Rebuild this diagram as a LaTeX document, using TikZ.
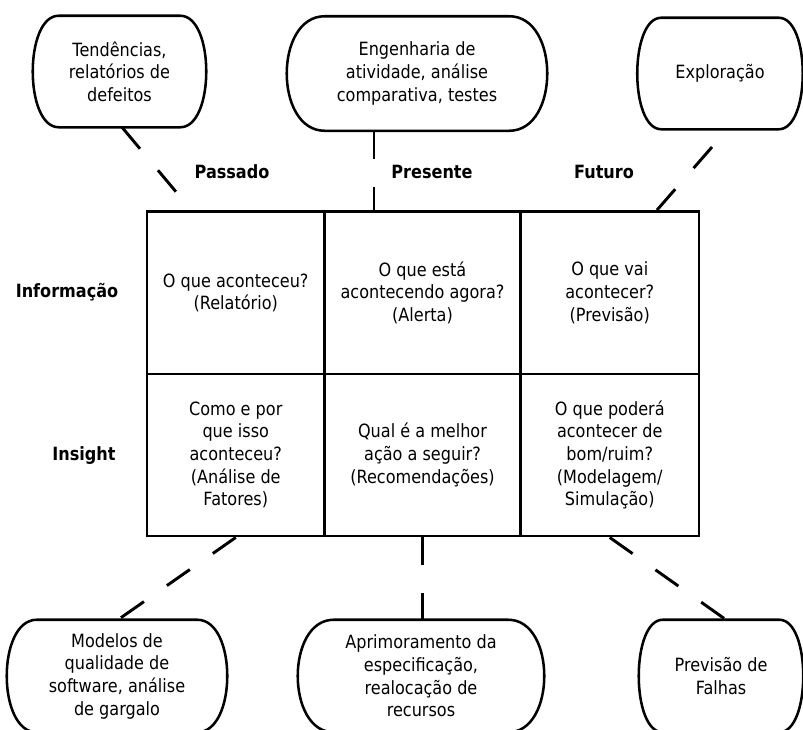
\documentclass[tikz,border=0pt]{standalone}
\usepackage{fontspec}
\setmainfont{DejaVu Sans}[FakeStretch=0.88]

% Outline of a speech bubble around a named node: flat top and bottom,
% sides bulging out to the node's east/west edges. #2 = corner reach (px).
\newcommand\bubbleoutline[2]{%
  \draw[bubline]
    ([xshift=#2*0.75pt]#1.north west) -- ([xshift=-#2*0.75pt]#1.north east)
    .. controls ([xshift=#2*0.25pt]#1.north east) and ([xshift=#2*0.25pt]#1.south east)
    .. ([xshift=-#2*0.75pt]#1.south east)
    -- ([xshift=#2*0.75pt]#1.south west)
    .. controls ([xshift=-#2*0.25pt]#1.south west) and ([xshift=-#2*0.25pt]#1.north west)
    .. cycle;}

\begin{document}
\begin{tikzpicture}[x=0.75pt,y=-0.75pt,
  basefont/.style={font=\fontsize{13.7}{17}\selectfont},
  head/.style={font=\fontsize{13.7}{17}\selectfont\bfseries, inner sep=0pt},
  cell/.style={draw, line width=2.2pt, align=center, basefont, inner sep=0pt},
  bub/.style={align=center, basefont, inner sep=0pt},
  bubline/.style={line width=1.9pt, line join=round},
  link/.style={line width=2.2pt, dash pattern=on 21pt off 21pt}]

\useasboundingbox (0,0) rectangle (803,729);
\clip (0,0) rectangle (803,729);

% matrix of questions
\node[cell, minimum width=177.5*0.75pt, minimum height=162.5*0.75pt] (c11) at (235.75,292.75)
  {O que aconteceu?\\(Relatório)};
\node[cell, minimum width=196*0.75pt, minimum height=162.5*0.75pt] (c12) at (422.5,292.75)
  {O que está\\acontecendo agora?\\(Alerta)};
\node[cell, minimum width=178.5*0.75pt, minimum height=162.5*0.75pt] (c13) at (609.75,292.75)
  {O que vai\\acontecer?\\(Previsão)};
\node[cell, minimum width=177.5*0.75pt, minimum height=162*0.75pt] (c21) at (235.75,455)
  {Como e por\\que isso\\aconteceu?\\(Análise de\\Fatores)};
\node[cell, minimum width=196*0.75pt, minimum height=162*0.75pt] (c22) at (422.5,455)
  {Qual é a melhor\\ação a seguir?\\(Recomendações)};
\node[cell, minimum width=178.5*0.75pt, minimum height=162*0.75pt] (c23) at (609.75,455)
  {O que poderá\\acontecer de\\bom/ruim?\\(Modelagem/\\Simulação)};

% column and row headings
\node[head] (past)    at (232,172) {Passado};
\node[head] (present) at (432,172) {Presente};
\node[head] (future)  at (604,172) {Futuro};
\node[head] (info)    at (67,292)  {Informação};
\node[head] (insight) at (84,456)  {Insight};

% bubbles above
\node[bub, minimum width=173*0.75pt, minimum height=111*0.75pt] (b1) at (119.5,71.5)
  {Tendências,\\relatórios de\\defeitos};
\node[bub, minimum width=260*0.75pt, minimum height=114*0.75pt] (b2) at (417,73.5)
  {Engenharia de\\atividade, análise\\comparativa, testes};
\node[bub, minimum width=165*0.75pt, minimum height=111*0.75pt] (b3) at (720,73.5)
  {Exploração};
\bubbleoutline{b1}{26}
\bubbleoutline{b2}{38}
\bubbleoutline{b3}{24}

% bubbles below
\node[bub, minimum width=220*0.75pt, minimum height=112*0.75pt] (b4) at (117,676)
  {Modelos de\\qualidade de\\software, análise\\de gargalo};
\node[bub, minimum width=246*0.75pt, minimum height=112*0.75pt] (b5) at (421,676)
  {Aprimoramento da\\especificação,\\realocação de\\recursos};
\node[bub, minimum width=164*0.75pt, minimum height=112*0.75pt] (b6) at (721,676)
  {Previsão de\\Falhas};
\bubbleoutline{b4}{30}
\bubbleoutline{b5}{36}
\bubbleoutline{b6}{24}

% connectors
\coordinate (e1) at (177,193);
\coordinate (e3) at (712,147);
\draw[link] ([xshift=2.5*0.75pt]b1.south) -- (e1);
\draw[link] ([xshift=-43*0.75pt]b2.south) -- ([xshift=-43*0.75pt]b2.south |- c12.north);
\draw[link] (e3) -- ([xshift=47.25*0.75pt]c13.north);
\draw[link] (c21.south) -- ([xshift=1*0.75pt]b4.north);
\draw[link] (c22.south) -- (c22.south |- b5.north);
\draw[link] (c23.south) -- ([xshift=5*0.75pt]b6.north);

\end{tikzpicture}
\end{document}
